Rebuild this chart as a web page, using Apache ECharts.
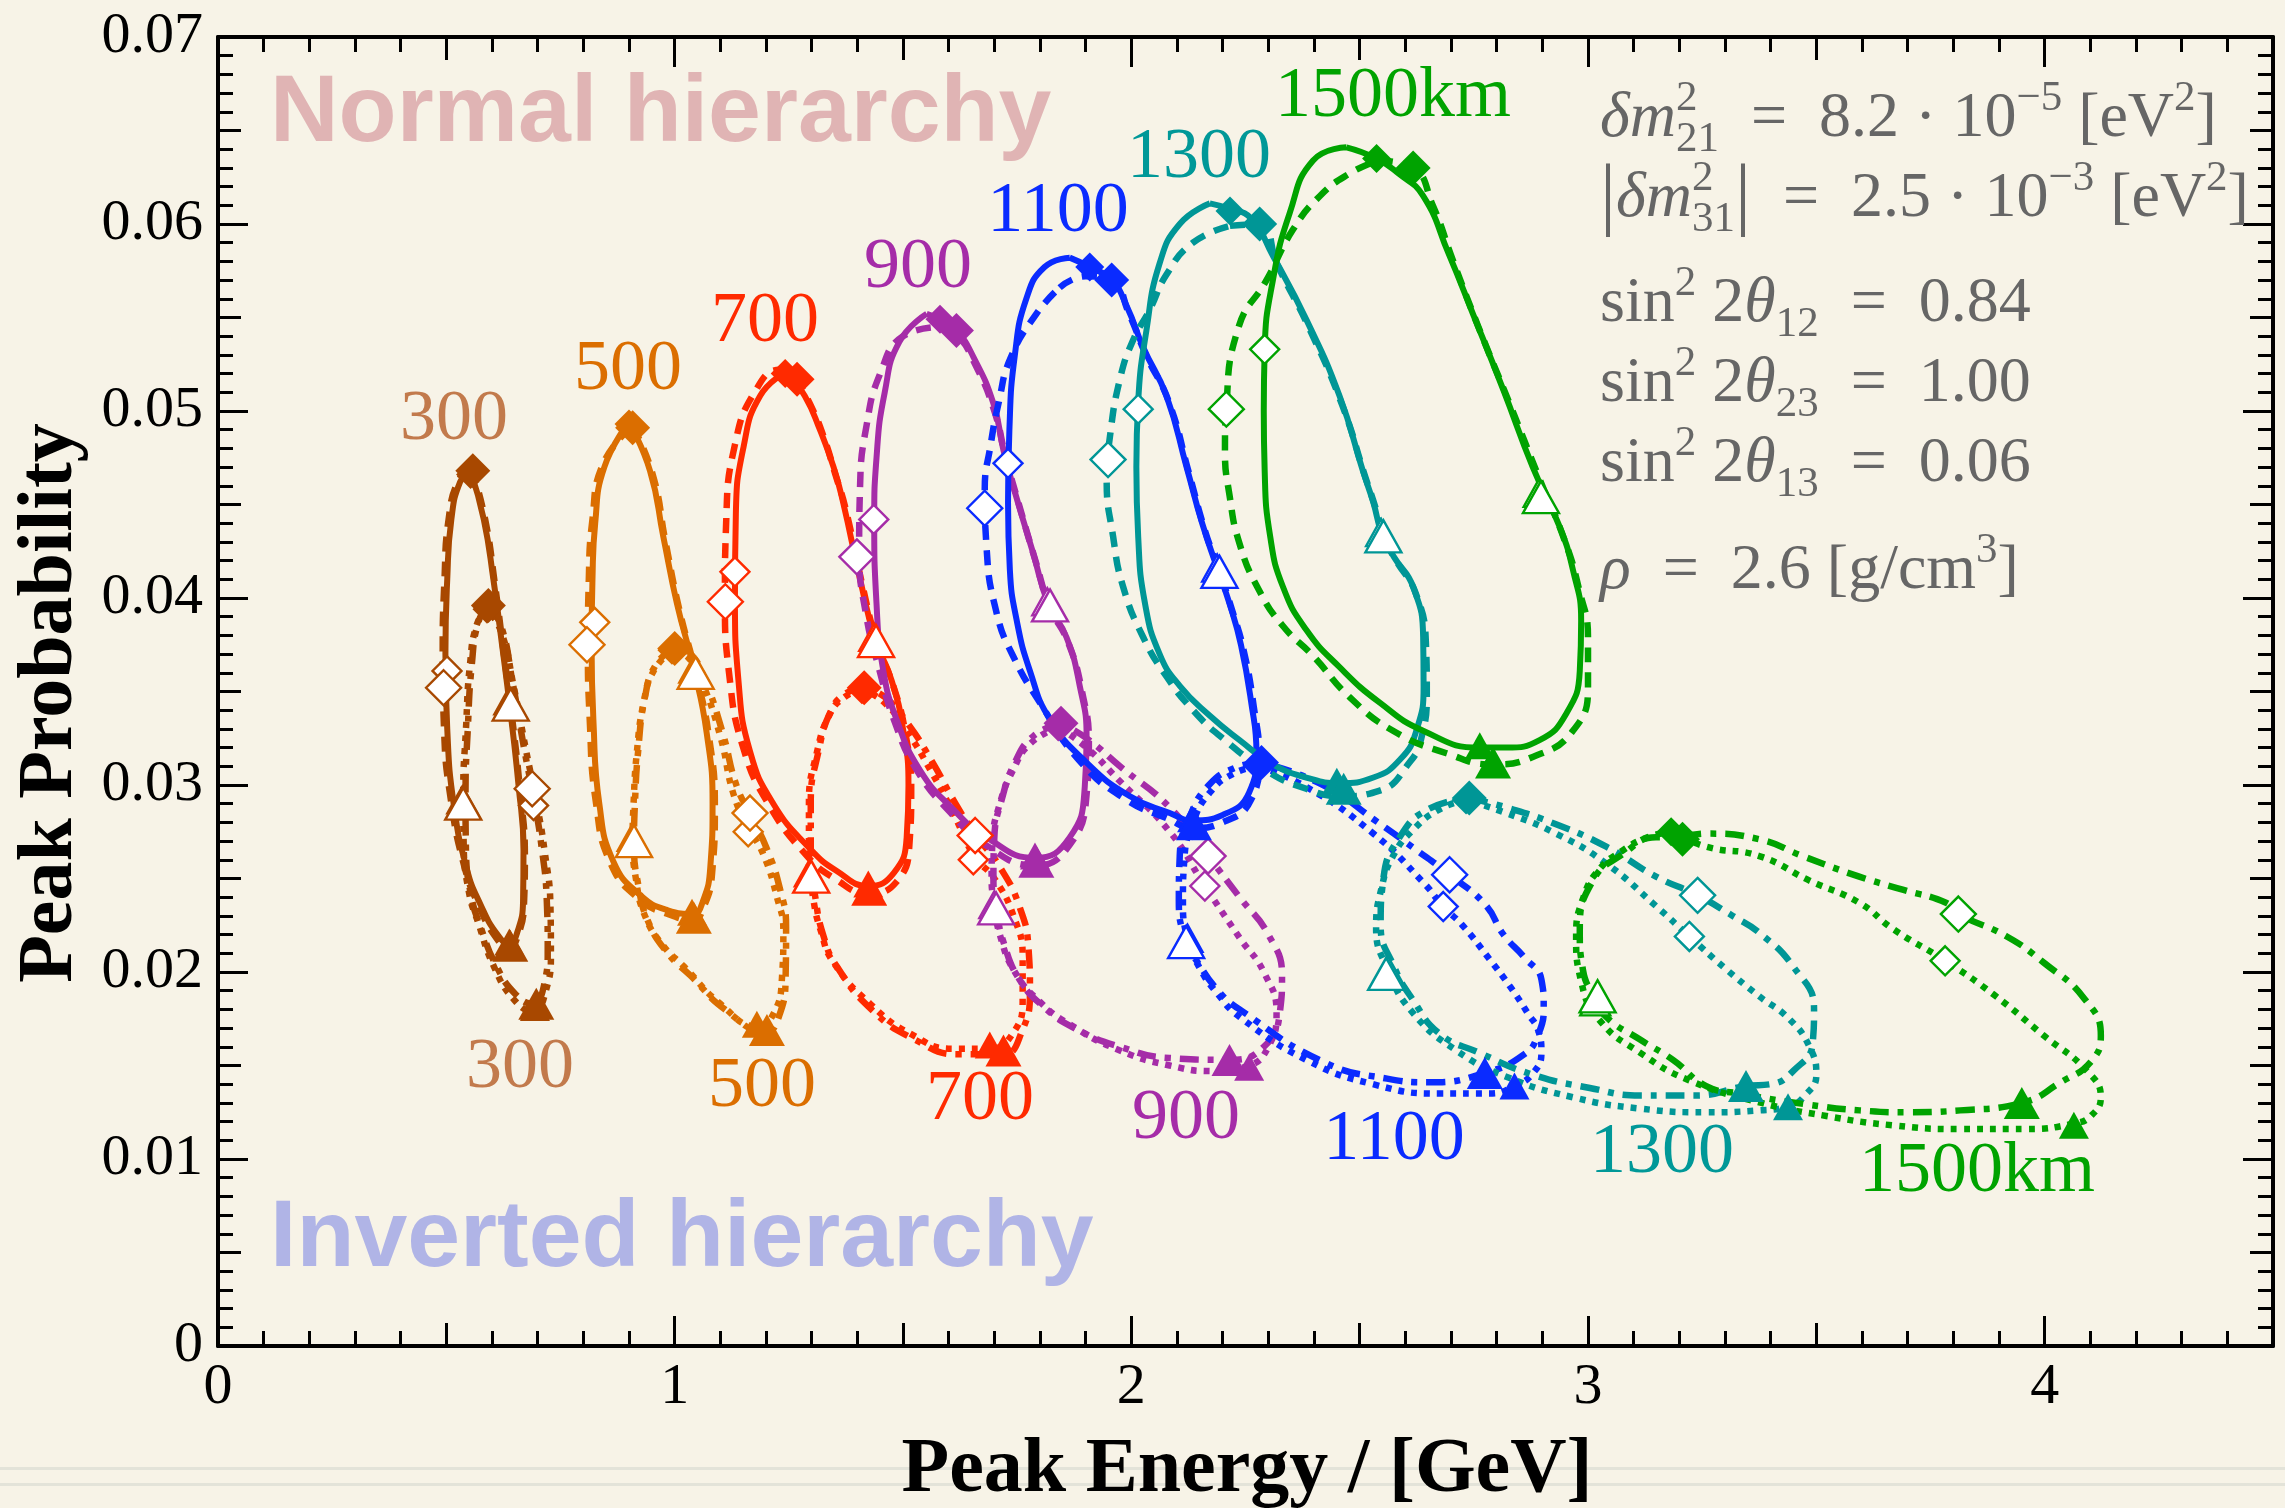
<!DOCTYPE html>
<html><head><meta charset="utf-8">
<script src="https://cdn.jsdelivr.net/npm/echarts@6/dist/echarts.min.js"></script>
<style>html,body{margin:0;padding:0;background:#F7F3E7;}#c{width:2285px;height:1508px;}</style>
</head><body><div id="c"></div>
<script>
// ---------- categories / labels ----------
const baselines = ['300','500','700','900','1100','1300','1500km'];
const lineColors = ['#A84800','#DB6E00','#FF2A00','#A52CA8','#0A2BFF','#009696','#00A300'];
const labelColors = ['#C27A4C','#DB6E00','#FF2A00','#A52CA8','#0A2BFF','#009898','#00A300'];
const xTickLabels = ['0','1','2','3','4'];
const yTickLabels = ['0','0.01','0.02','0.03','0.04','0.05','0.06','0.07'];

// ---------- loops: [energy GeV, probability] ----------
const nh300Solid = [[0.553,0.0468],[0.582,0.0442],[0.603,0.0410],[0.622,0.0375],[0.640,0.0340],[0.658,0.0300],[0.669,0.0265],[0.668,0.0238],[0.655,0.0221],[0.638,0.0215],[0.612,0.0220],[0.575,0.0236],[0.545,0.0255],[0.516,0.0290],[0.502,0.0330],[0.498,0.0370],[0.502,0.0410],[0.511,0.0442],[0.530,0.0462],[0.553,0.0468]];
const nh300Dashed = [[0.556,0.0469],[0.585,0.0442],[0.606,0.0408],[0.625,0.0372],[0.643,0.0338],[0.661,0.0298],[0.672,0.0262],[0.670,0.0236],[0.656,0.0219],[0.638,0.0213],[0.610,0.0218],[0.572,0.0235],[0.540,0.0256],[0.510,0.0292],[0.495,0.0330],[0.492,0.0370],[0.496,0.0410],[0.505,0.0442],[0.527,0.0463],[0.556,0.0469]];
const ih300Dotted = [[0.589,0.0394],[0.567,0.0386],[0.552,0.0365],[0.543,0.0330],[0.537,0.0295],[0.538,0.0268],[0.550,0.0242],[0.569,0.0227],[0.604,0.0203],[0.649,0.0185],[0.690,0.0179],[0.718,0.0190],[0.729,0.0210],[0.728,0.0235],[0.715,0.0265],[0.698,0.0290],[0.675,0.0318],[0.648,0.0352],[0.620,0.0382],[0.589,0.0394]];
const ih300DashDot = [[0.592,0.0396],[0.570,0.0387],[0.556,0.0365],[0.547,0.0330],[0.542,0.0295],[0.543,0.0265],[0.555,0.0240],[0.575,0.0224],[0.610,0.0203],[0.652,0.0188],[0.690,0.0183],[0.714,0.0193],[0.722,0.0212],[0.720,0.0238],[0.708,0.0268],[0.692,0.0292],[0.670,0.0320],[0.645,0.0355],[0.620,0.0385],[0.592,0.0396]];

const nh500Solid = [[0.900,0.0494],[0.946,0.0468],[0.975,0.0433],[1.005,0.0397],[1.042,0.0362],[1.070,0.0328],[1.083,0.0290],[1.078,0.0256],[1.062,0.0238],[1.040,0.0231],[0.985,0.0233],[0.925,0.0241],[0.866,0.0259],[0.835,0.0290],[0.822,0.0335],[0.818,0.0375],[0.820,0.0410],[0.826,0.0440],[0.846,0.0470],[0.900,0.0494]];
const nh500Dashed = [[0.908,0.0492],[0.952,0.0466],[0.980,0.0430],[1.010,0.0394],[1.046,0.0360],[1.075,0.0326],[1.088,0.0288],[1.082,0.0253],[1.064,0.0235],[1.040,0.0228],[0.985,0.0231],[0.922,0.0239],[0.860,0.0258],[0.828,0.0290],[0.814,0.0335],[0.810,0.0375],[0.812,0.0410],[0.820,0.0442],[0.842,0.0471],[0.908,0.0492]];
const ih500Dotted = [[0.994,0.0372],[0.954,0.0361],[0.932,0.0344],[0.917,0.0317],[0.910,0.0290],[0.908,0.0270],[0.915,0.0250],[0.935,0.0230],[0.975,0.0214],[1.020,0.0203],[1.100,0.0183],[1.180,0.0171],[1.215,0.0177],[1.235,0.0197],[1.238,0.0222],[1.224,0.0240],[1.194,0.0263],[1.160,0.0278],[1.129,0.0295],[1.100,0.0326],[1.060,0.0355],[1.030,0.0368],[0.994,0.0372]];
const ih500DashDot = [[1.000,0.0374],[0.958,0.0364],[0.935,0.0347],[0.920,0.0318],[0.913,0.0290],[0.911,0.0268],[0.920,0.0247],[0.942,0.0227],[0.985,0.0210],[1.035,0.0198],[1.110,0.0180],[1.200,0.0168],[1.228,0.0176],[1.243,0.0198],[1.244,0.0224],[1.230,0.0245],[1.200,0.0267],[1.166,0.0284],[1.135,0.0300],[1.105,0.0328],[1.065,0.0357],[1.035,0.0370],[1.000,0.0374]];

const nh700Solid = [[1.245,0.0521],[1.285,0.0508],[1.318,0.0490],[1.348,0.0470],[1.369,0.0451],[1.406,0.0410],[1.439,0.0378],[1.475,0.0356],[1.500,0.0330],[1.512,0.0300],[1.508,0.0272],[1.480,0.0253],[1.424,0.0246],[1.355,0.0254],[1.296,0.0266],[1.216,0.0290],[1.165,0.0318],[1.140,0.0355],[1.132,0.0400],[1.134,0.0445],[1.151,0.0481],[1.187,0.0508],[1.245,0.0521]];
const nh700Dashed = [[1.265,0.0518],[1.300,0.0502],[1.328,0.0485],[1.352,0.0466],[1.374,0.0448],[1.410,0.0408],[1.443,0.0376],[1.480,0.0352],[1.505,0.0328],[1.518,0.0298],[1.514,0.0268],[1.485,0.0248],[1.424,0.0242],[1.350,0.0250],[1.290,0.0262],[1.205,0.0290],[1.150,0.0320],[1.120,0.0358],[1.110,0.0400],[1.113,0.0442],[1.132,0.0482],[1.175,0.0510],[1.230,0.0522],[1.265,0.0518]];
const ih700Dotted = [[1.410,0.0351],[1.372,0.0347],[1.340,0.0338],[1.311,0.0317],[1.294,0.0290],[1.294,0.0262],[1.303,0.0240],[1.320,0.0222],[1.348,0.0205],[1.428,0.0183],[1.516,0.0167],[1.610,0.0159],[1.690,0.0159],[1.740,0.0167],[1.762,0.0185],[1.762,0.0208],[1.742,0.0230],[1.700,0.0250],[1.656,0.0262],[1.610,0.0285],[1.560,0.0308],[1.505,0.0330],[1.455,0.0345],[1.410,0.0351]];
const ih700DashDot = [[1.415,0.0352],[1.375,0.0349],[1.343,0.0340],[1.315,0.0318],[1.298,0.0290],[1.298,0.0262],[1.308,0.0240],[1.325,0.0220],[1.355,0.0203],[1.435,0.0179],[1.525,0.0164],[1.620,0.0156],[1.720,0.0156],[1.760,0.0168],[1.778,0.0190],[1.775,0.0212],[1.755,0.0235],[1.710,0.0257],[1.660,0.0273],[1.615,0.0290],[1.565,0.0312],[1.510,0.0333],[1.460,0.0347],[1.415,0.0352]];

const nh900Solid = [[1.552,0.0552],[1.581,0.0549],[1.617,0.0543],[1.654,0.0529],[1.698,0.0504],[1.720,0.0479],[1.741,0.0460],[1.785,0.0424],[1.818,0.0397],[1.858,0.0379],[1.887,0.0353],[1.902,0.0326],[1.898,0.0299],[1.865,0.0272],[1.789,0.0261],[1.683,0.0272],[1.610,0.0287],[1.537,0.0308],[1.486,0.0335],[1.457,0.0361],[1.442,0.0397],[1.437,0.0442],[1.442,0.0475],[1.460,0.0510],[1.492,0.0537],[1.552,0.0552]];
const nh900Dashed = [[1.580,0.0545],[1.617,0.0541],[1.658,0.0525],[1.700,0.0500],[1.725,0.0475],[1.748,0.0455],[1.790,0.0420],[1.822,0.0395],[1.862,0.0376],[1.892,0.0350],[1.907,0.0322],[1.902,0.0295],[1.865,0.0268],[1.789,0.0257],[1.680,0.0268],[1.605,0.0285],[1.530,0.0308],[1.480,0.0335],[1.450,0.0360],[1.420,0.0390],[1.404,0.0425],[1.406,0.0460],[1.420,0.0492],[1.450,0.0520],[1.500,0.0540],[1.580,0.0545]];
const ih900Dotted = [[1.840,0.0331],[1.778,0.0322],[1.741,0.0308],[1.712,0.0290],[1.696,0.0270],[1.694,0.0250],[1.701,0.0235],[1.712,0.0220],[1.745,0.0200],[1.800,0.0184],[1.865,0.0172],[1.975,0.0158],[2.084,0.0150],[2.180,0.0147],[2.258,0.0150],[2.300,0.0160],[2.318,0.0178],[2.290,0.0200],[2.238,0.0218],[2.161,0.0246],[2.084,0.0275],[1.975,0.0302],[1.902,0.0320],[1.840,0.0331]];
const ih900DashDot = [[1.846,0.0333],[1.785,0.0326],[1.745,0.0312],[1.716,0.0292],[1.700,0.0272],[1.698,0.0250],[1.706,0.0232],[1.720,0.0216],[1.755,0.0196],[1.810,0.0181],[1.875,0.0170],[1.975,0.0160],[2.084,0.0154],[2.215,0.0153],[2.290,0.0160],[2.325,0.0178],[2.330,0.0198],[2.300,0.0220],[2.237,0.0240],[2.168,0.0262],[2.084,0.0288],[1.975,0.0310],[1.902,0.0325],[1.846,0.0333]];

const nh1100Solid = [[1.865,0.0582],[1.909,0.0577],[1.957,0.0570],[1.990,0.0556],[2.026,0.0534],[2.077,0.0508],[2.121,0.0470],[2.155,0.0440],[2.188,0.0416],[2.215,0.0397],[2.240,0.0375],[2.262,0.0345],[2.274,0.0317],[2.258,0.0296],[2.200,0.0284],[2.135,0.0281],[2.084,0.0285],[1.997,0.0294],[1.902,0.0312],[1.822,0.0335],[1.778,0.0361],[1.749,0.0388],[1.734,0.0415],[1.730,0.0451],[1.733,0.0490],[1.745,0.0530],[1.770,0.0560],[1.810,0.0577],[1.865,0.0582]];
const nh1100Dashed = [[1.843,0.0566],[1.900,0.0572],[1.957,0.0570],[1.995,0.0552],[2.032,0.0530],[2.082,0.0505],[2.126,0.0467],[2.160,0.0437],[2.193,0.0414],[2.220,0.0394],[2.246,0.0372],[2.268,0.0342],[2.280,0.0314],[2.262,0.0292],[2.200,0.0280],[2.135,0.0277],[2.080,0.0282],[1.990,0.0292],[1.890,0.0312],[1.800,0.0344],[1.741,0.0369],[1.705,0.0392],[1.683,0.0427],[1.679,0.0458],[1.692,0.0482],[1.710,0.0505],[1.735,0.0528],[1.792,0.0552],[1.843,0.0566]];
const ih1100Dotted = [[2.277,0.0310],[2.223,0.0306],[2.172,0.0296],[2.135,0.0280],[2.116,0.0260],[2.113,0.0238],[2.123,0.0218],[2.150,0.0202],[2.190,0.0188],[2.237,0.0176],[2.383,0.0153],[2.529,0.0140],[2.675,0.0135],[2.784,0.0135],[2.839,0.0139],[2.880,0.0146],[2.898,0.0157],[2.892,0.0168],[2.868,0.0178],[2.830,0.0192],[2.784,0.0207],[2.725,0.0225],[2.683,0.0235],[2.639,0.0248],[2.530,0.0274],[2.383,0.0299],[2.277,0.0310]];
const ih1100DashDot = [[2.285,0.0312],[2.225,0.0309],[2.170,0.0300],[2.128,0.0283],[2.106,0.0262],[2.104,0.0238],[2.120,0.0216],[2.143,0.0206],[2.190,0.0190],[2.237,0.0180],[2.420,0.0152],[2.560,0.0143],[2.653,0.0141],[2.774,0.0146],[2.860,0.0156],[2.890,0.0166],[2.903,0.0181],[2.898,0.0196],[2.860,0.0208],[2.815,0.0220],[2.775,0.0236],[2.697,0.0252],[2.620,0.0266],[2.540,0.0280],[2.420,0.0300],[2.285,0.0312]];

const nh1300Solid = [[2.172,0.0611],[2.216,0.0608],[2.262,0.0603],[2.310,0.0583],[2.383,0.0549],[2.456,0.0508],[2.507,0.0468],[2.530,0.0451],[2.549,0.0434],[2.575,0.0422],[2.617,0.0406],[2.639,0.0379],[2.640,0.0353],[2.624,0.0329],[2.590,0.0314],[2.530,0.0304],[2.456,0.0301],[2.383,0.0304],[2.310,0.0311],[2.237,0.0324],[2.172,0.0337],[2.106,0.0353],[2.062,0.0370],[2.030,0.0397],[2.015,0.0433],[2.011,0.0470],[2.015,0.0505],[2.033,0.0543],[2.062,0.0579],[2.106,0.0600],[2.172,0.0611]];
const nh1300Dashed = [[2.216,0.0599],[2.281,0.0600],[2.320,0.0578],[2.390,0.0544],[2.462,0.0503],[2.512,0.0465],[2.535,0.0448],[2.552,0.0433],[2.580,0.0420],[2.622,0.0403],[2.645,0.0376],[2.647,0.0350],[2.635,0.0325],[2.609,0.0312],[2.544,0.0297],[2.456,0.0294],[2.383,0.0298],[2.300,0.0307],[2.200,0.0325],[2.135,0.0340],[2.077,0.0358],[2.026,0.0379],[1.982,0.0406],[1.960,0.0433],[1.946,0.0463],[1.953,0.0486],[1.975,0.0517],[2.004,0.0538],[2.040,0.0554],[2.077,0.0573],[2.135,0.0590],[2.216,0.0599]];
const ih1300Dotted = [[2.733,0.0292],[2.675,0.0287],[2.617,0.0276],[2.573,0.0262],[2.548,0.0245],[2.536,0.0224],[2.562,0.0201],[2.617,0.0178],[2.712,0.0158],[2.821,0.0144],[2.967,0.0133],[3.113,0.0127],[3.259,0.0125],[3.375,0.0126],[3.438,0.0128],[3.475,0.0134],[3.500,0.0145],[3.485,0.0160],[3.440,0.0175],[3.375,0.0187],[3.300,0.0202],[3.222,0.0219],[3.150,0.0235],[3.040,0.0258],[2.930,0.0274],[2.821,0.0285],[2.733,0.0292]];
const ih1300DashDot = [[2.740,0.0293],[2.821,0.0288],[2.930,0.0279],[3.040,0.0267],[3.149,0.0251],[3.240,0.0241],[3.317,0.0230],[3.375,0.0221],[3.449,0.0203],[3.495,0.0180],[3.492,0.0162],[3.449,0.0147],[3.400,0.0140],[3.346,0.0139],[3.237,0.0134],[3.113,0.0134],[3.004,0.0138],[2.880,0.0145],[2.760,0.0157],[2.675,0.0167],[2.617,0.0185],[2.575,0.0203],[2.546,0.0225],[2.552,0.0250],[2.590,0.0273],[2.650,0.0287],[2.740,0.0293]];

const nh1500Solid = [[2.471,0.0641],[2.537,0.0635],[2.585,0.0627],[2.639,0.0615],[2.695,0.0584],[2.748,0.0552],[2.815,0.0511],[2.879,0.0470],[2.938,0.0438],[2.967,0.0415],[2.985,0.0388],[2.982,0.0361],[2.952,0.0338],[2.894,0.0324],[2.821,0.0320],[2.763,0.0320],[2.639,0.0329],[2.544,0.0344],[2.456,0.0363],[2.383,0.0383],[2.332,0.0406],[2.304,0.0433],[2.292,0.0468],[2.290,0.0500],[2.292,0.0533],[2.310,0.0570],[2.347,0.0606],[2.398,0.0634],[2.471,0.0641]];
const nh1500Dashed = [[2.540,0.0634],[2.617,0.0630],[2.660,0.0610],[2.705,0.0580],[2.760,0.0545],[2.830,0.0503],[2.890,0.0466],[2.950,0.0430],[2.980,0.0405],[3.000,0.0379],[3.000,0.0353],[2.967,0.0329],[2.879,0.0315],[2.792,0.0311],[2.690,0.0317],[2.573,0.0329],[2.478,0.0347],[2.398,0.0369],[2.332,0.0385],[2.280,0.0404],[2.237,0.0429],[2.215,0.0455],[2.205,0.0479],[2.208,0.0501],[2.235,0.0545],[2.296,0.0570],[2.354,0.0597],[2.413,0.0615],[2.478,0.0627],[2.540,0.0634]];
const ih1500Dotted = [[3.182,0.0275],[3.259,0.0267],[3.375,0.0262],[3.484,0.0249],[3.594,0.0237],[3.668,0.0223],[3.782,0.0206],[3.888,0.0188],[3.998,0.0166],[4.093,0.0147],[4.123,0.0133],[4.101,0.0123],[4.064,0.0119],[3.961,0.0116],[3.815,0.0116],[3.668,0.0118],[3.522,0.0123],[3.380,0.0130],[3.222,0.0142],[3.113,0.0157],[3.026,0.0174],[2.985,0.0195],[2.974,0.0219],[2.990,0.0240],[3.025,0.0255],[3.076,0.0265],[3.130,0.0272],[3.182,0.0275]];
const ih1500DashDot = [[3.207,0.0272],[3.259,0.0274],[3.375,0.0271],[3.470,0.0262],[3.594,0.0251],[3.689,0.0244],[3.784,0.0237],[3.811,0.0231],[3.917,0.0219],[3.998,0.0205],[4.086,0.0186],[4.123,0.0166],[4.101,0.0152],[4.035,0.0141],[3.950,0.0130],[3.815,0.0126],[3.705,0.0125],[3.595,0.0126],[3.485,0.0129],[3.332,0.0135],[3.259,0.0139],[3.186,0.0153],[3.113,0.0164],[3.040,0.0176],[3.010,0.0188],[2.989,0.0201],[2.982,0.0222],[3.011,0.0249],[3.076,0.0263],[3.149,0.0272],[3.207,0.0272]];

// ---------- markers: [x, y, baselineIndex, onSecondCurve(0/1)] ----------
const nhFilledDiamonds = [[0.553,0.0466,0,0],[0.558,0.0468,0,1],[0.900,0.0493,1,0],[0.908,0.0491,1,1],[1.242,0.0520,2,0],[1.268,0.0517,2,1],[1.581,0.0549,3,0],[1.617,0.0543,3,1],[1.909,0.0577,4,0],[1.957,0.0570,4,1],[2.216,0.0607,5,0],[2.281,0.0600,5,1],[2.537,0.0635,6,0],[2.617,0.0630,6,1]];
const nhOpenTriangles = [[0.638,0.0345,0,0],[0.641,0.0343,0,1],[1.043,0.0362,1,0],[1.046,0.0360,1,1],[1.437,0.0379,2,0],[1.441,0.0377,2,1],[1.816,0.0398,3,0],[1.822,0.0396,3,1],[2.188,0.0416,4,0],[2.193,0.0414,4,1],[2.547,0.0435,5,0],[2.552,0.0433,5,1],[2.892,0.0456,6,0],[2.897,0.0454,6,1]];
const nhFilledTriangles = [[0.638,0.0216,0,0],[0.640,0.0214,0,1],[1.038,0.0232,1,0],[1.042,0.0229,1,1],[1.424,0.0247,2,0],[1.426,0.0244,2,1],[1.789,0.0262,3,0],[1.792,0.0259,3,1],[2.133,0.0282,4,0],[2.137,0.0279,4,1],[2.450,0.0302,5,0],[2.465,0.0298,5,1],[2.763,0.0321,6,0],[2.792,0.0312,6,1]];
const nhOpenDiamonds = [[0.5015,0.0361,0,0],[0.494,0.0352,0,1],[0.825,0.0387,1,0],[0.808,0.0375,1,1],[1.132,0.0414,2,0],[1.111,0.0398,2,1],[1.436,0.0442,3,0],[1.399,0.0422,3,1],[1.730,0.0472,4,0],[1.679,0.0448,4,1],[2.015,0.0501,5,0],[1.949,0.0474,5,1],[2.292,0.0533,6,0],[2.208,0.0501,6,1]];
const ihFilledDiamonds = [[0.589,0.0394,0,0],[0.592,0.0396,0,1],[0.994,0.0372,1,0],[1.000,0.0373,1,1],[1.410,0.0351,2,0],[1.415,0.0352,2,1],[1.840,0.0331,3,0],[1.846,0.0333,3,1],[2.277,0.0310,4,0],[2.285,0.0312,4,1],[2.733,0.0292,5,0],[2.740,0.0293,5,1],[3.182,0.0275,6,0],[3.207,0.0271,6,1]];
const ihOpenTriangles = [[0.535,0.0292,0,0],[0.537,0.0290,0,1],[0.908,0.0272,1,0],[0.911,0.0270,1,1],[1.296,0.0253,2,0],[1.299,0.0251,2,1],[1.700,0.0236,3,0],[1.704,0.0234,3,1],[2.123,0.0218,4,0],[2.120,0.0216,4,1],[2.562,0.0201,5,0],[2.558,0.0199,5,1],[3.016,0.0184,6,0],[3.021,0.0187,6,1]];
const ihFilledTriangles = [[0.694,0.0181,0,0],[0.697,0.0183,0,1],[1.180,0.0172,1,0],[1.202,0.0169,1,1],[1.690,0.0161,2,0],[1.720,0.0158,2,1],[2.258,0.0149,3,0],[2.215,0.0153,3,1],[2.839,0.0139,4,0],[2.774,0.0146,4,1],[3.438,0.0128,5,0],[3.346,0.0139,5,1],[4.064,0.0118,6,0],[3.950,0.0130,6,1]];
const ihOpenDiamonds = [[0.691,0.0289,0,0],[0.688,0.0298,0,1],[1.161,0.0275,1,0],[1.165,0.0285,1,1],[1.654,0.0260,2,0],[1.658,0.0273,2,1],[2.161,0.0246,3,0],[2.168,0.0262,3,1],[2.683,0.0235,4,0],[2.697,0.0252,4,1],[3.222,0.0219,5,0],[3.240,0.0241,5,1],[3.782,0.0206,6,0],[3.811,0.0231,6,1]];

// ---------- build ----------
const nhSolid = [nh300Solid,nh500Solid,nh700Solid,nh900Solid,nh1100Solid,nh1300Solid,nh1500Solid];
const nhDashed = [nh300Dashed,nh500Dashed,nh700Dashed,nh900Dashed,nh1100Dashed,nh1300Dashed,nh1500Dashed];
const ihDotted = [ih300Dotted,ih500Dotted,ih700Dotted,ih900Dotted,ih1100Dotted,ih1300Dotted,ih1500Dotted];
const ihDashDot = [ih300DashDot,ih500DashDot,ih700DashDot,ih900DashDot,ih1100DashDot,ih1300DashDot,ih1500DashDot];

const DASH = [15, 10], DOT = [6, 7], DASHDOT = [19, 9, 6, 9];
function loop(data, b, type, w) {
  return {type:'line', data, smooth:0.5, symbol:'none', silent:true, z:2,
    lineStyle:{color:lineColors[b], width:w, type, cap:'butt', join:'round', opacity:1}};
}
function markers(arr, b, symbol, filled) {
  return {type:'scatter', data: arr.filter(d => d[2] === b), symbol, silent:true, z:4,
    symbolSize: (v) => symbol === 'diamond' ? (v[3] ? 35 : 29) : (v[3] ? [36, 32] : [30, 27]),
    itemStyle:{opacity:1, color: filled ? lineColors[b] : '#FFFFFF', borderColor: lineColors[b], borderWidth: filled ? 0 : 2.4}};
}
const series = [];
for (let b = 0; b < baselines.length; b++) {
  series.push(loop(ihDotted[b], b, DOT, 6.5));
  series.push(loop(ihDashDot[b], b, DASHDOT, 6.5));
  series.push(loop(nhDashed[b], b, DASH, 6.5));
  series.push(loop(nhSolid[b], b, 'solid', 6));
}
for (let b = 0; b < baselines.length; b++) {
  series.push(markers(nhFilledDiamonds, b, 'diamond', true));
  series.push(markers(nhFilledTriangles, b, 'triangle', true));
  series.push(markers(nhOpenDiamonds, b, 'diamond', false));
  series.push(markers(nhOpenTriangles, b, 'triangle', false));
  series.push(markers(ihFilledDiamonds, b, 'diamond', true));
  series.push(markers(ihFilledTriangles, b, 'triangle', true));
  series.push(markers(ihOpenDiamonds, b, 'diamond', false));
  series.push(markers(ihOpenTriangles, b, 'triangle', false));
}

const SERIF = '"Liberation Serif","Times New Roman",serif';
const gridBox = {left:218, right:12, top:37, bottom:162};
function xAx(grid, pos, interval, len, labels, line, minor) {
  return {type:'value', gridIndex:grid, position:pos, min:0, max:4.5, interval,
    axisLine:{show:line, onZero:false, lineStyle:{color:'#000', width:4}},
    axisTick:{show:true, inside:true, length:len, lineStyle:{color:'#000', width:3}},
    minorTick:{show:minor, splitNumber:5, length:15, lineStyle:{color:'#000', width:3}},
    splitLine:{show:false},
    axisLabel:{show:labels, margin:13, color:'#000', fontFamily:SERIF, fontSize:58,
      formatter: v => (Math.abs(v - Math.round(v)) < 1e-6 ? (xTickLabels[Math.round(v)] || '') : '')}};
}
function yAx(grid, pos, interval, len, labels, line, minor) {
  return {type:'value', gridIndex:grid, position:pos, min:0, max:0.07, interval,
    axisLine:{show:line, onZero:false, lineStyle:{color:'#000', width:4}},
    axisTick:{show:true, inside:true, length:len, lineStyle:{color:'#000', width:3}},
    minorTick:{show:minor, splitNumber:5, length:15, lineStyle:{color:'#000', width:3}},
    splitLine:{show:false},
    axisLabel:{show:labels, margin:15, color:'#000', fontFamily:SERIF, fontSize:58,
      formatter: v => yTickLabels[Math.round(v * 100)] || ''}};
}

// baseline label positions (pixel) for NH (top) and IH (bottom)
const nhLabelPos = [[454,420],[628,370],[765,322],[918,268],[1058,212],[1199,158],[1393,97]];
const ihLabelPos = [[520,1068],[762,1087],[980,1100],[1186,1119],[1394,1140],[1662,1153],[1977,1172]];
const graphics = [];
// faint frame lines at the bottom of the page (behind everything)
graphics.push({type:'rect', z:-10, shape:{x:0, y:1467, width:2285, height:3}, silent:true, style:{fill:'#E3E3D9'}});
graphics.push({type:'rect', z:-10, shape:{x:0, y:1483, width:2285, height:3}, silent:true, style:{fill:'#E3E3D9'}});
for (let b = 0; b < baselines.length; b++) {
  [nhLabelPos[b], ihLabelPos[b]].forEach(p => graphics.push({type:'text', x:p[0], y:p[1], z:5, silent:true,
    style:{text:baselines[b], fill:labelColors[b], fontFamily:SERIF, fontSize:72, align:'center', verticalAlign:'middle'}}));
}
graphics.push({type:'text', x:270, y:115, silent:true, style:{text:'Normal hierarchy', fill:'#E0B4B4', fontFamily:'"Liberation Sans",Arial,sans-serif', fontWeight:'bold', fontSize:95, align:'left', verticalAlign:'middle'}});
graphics.push({type:'text', x:270, y:1240, silent:true, style:{text:'Inverted hierarchy', fill:'#B0B4E6', fontFamily:'"Liberation Sans",Arial,sans-serif', fontWeight:'bold', fontSize:95, align:'left', verticalAlign:'middle'}});
graphics.push({type:'text', x:1247, y:1471, z:10, silent:true, style:{text:'Peak Energy / [GeV]', fill:'#000', fontFamily:SERIF, fontWeight:'bold', fontSize:78, align:'center', verticalAlign:'middle'}});
graphics.push({type:'text', x:51, y:703, rotation:Math.PI/2, silent:true, style:{text:'Peak Probability', fill:'#000', fontFamily:SERIF, fontWeight:'bold', fontSize:78, align:'center', verticalAlign:'middle'}});

// parameter block
const G = '#666666';
const rich = {
  n:{fill:G, fontFamily:SERIF, fontSize:64, lineHeight:84, verticalAlign:'middle'},
  bar:{fill:G, fontFamily:SERIF, fontSize:80, lineHeight:84, verticalAlign:'middle'},
  i:{fill:G, fontFamily:SERIF, fontSize:64, lineHeight:84, verticalAlign:'middle', fontStyle:'italic'},
  p:{fill:G, fontFamily:SERIF, fontSize:43, lineHeight:43, verticalAlign:'top'},
  pz:{fill:G, fontFamily:SERIF, fontSize:43, lineHeight:43, verticalAlign:'top', width:0},
  s:{fill:G, fontFamily:SERIF, fontSize:43, lineHeight:40, verticalAlign:'bottom'}
};
const paramLines = [
  ['{i|δm}{pz|2}{s|21}{n|  =  8.2 · 10}{p|−5}{n| [eV}{p|2}{n|]}', 77],
  ['{bar||}{i|δm}{pz|2}{s|31}{bar||}{n|  =  2.5 · 10}{p|−3}{n| [eV}{p|2}{n|]}', 157],
  ['{n|sin}{p|2}{n| 2}{i|θ}{s|12}{n|  =  0.84}', 262],
  ['{n|sin}{p|2}{n| 2}{i|θ}{s|23}{n|  =  1.00}', 342],
  ['{n|sin}{p|2}{n| 2}{i|θ}{s|13}{n|  =  0.06}', 422],
  ['{i|ρ}{n|  =  2.6 [g/cm}{p|3}{n|]}', 529]
];
paramLines.forEach(l => graphics.push({type:'text', x:1600, y:l[1], silent:true, z:5,
  style:{text:l[0], rich, align:'left', verticalAlign:'top'}}));

const chart = echarts.init(document.getElementById('c'), null, {renderer:'canvas'});
chart.setOption({
  backgroundColor:'#F7F3E7',
  animation:false,
  grid:[Object.assign({}, gridBox), Object.assign({}, gridBox)],
  xAxis:[
    xAx(0,'bottom',1,30,true,true,false),
    xAx(0,'top',1,30,false,true,false),
    xAx(1,'bottom',0.5,23,false,false,true),
    xAx(1,'top',0.5,23,false,false,true)
  ],
  yAxis:[
    yAx(0,'left',0.01,30,true,true,false),
    yAx(0,'right',0.01,30,false,true,false),
    yAx(1,'left',0.005,23,false,false,true),
    yAx(1,'right',0.005,23,false,false,true)
  ],
  series: series.map(s => Object.assign(s, {xAxisIndex:0, yAxisIndex:0})),
  graphic: graphics
});
</script></body></html>
